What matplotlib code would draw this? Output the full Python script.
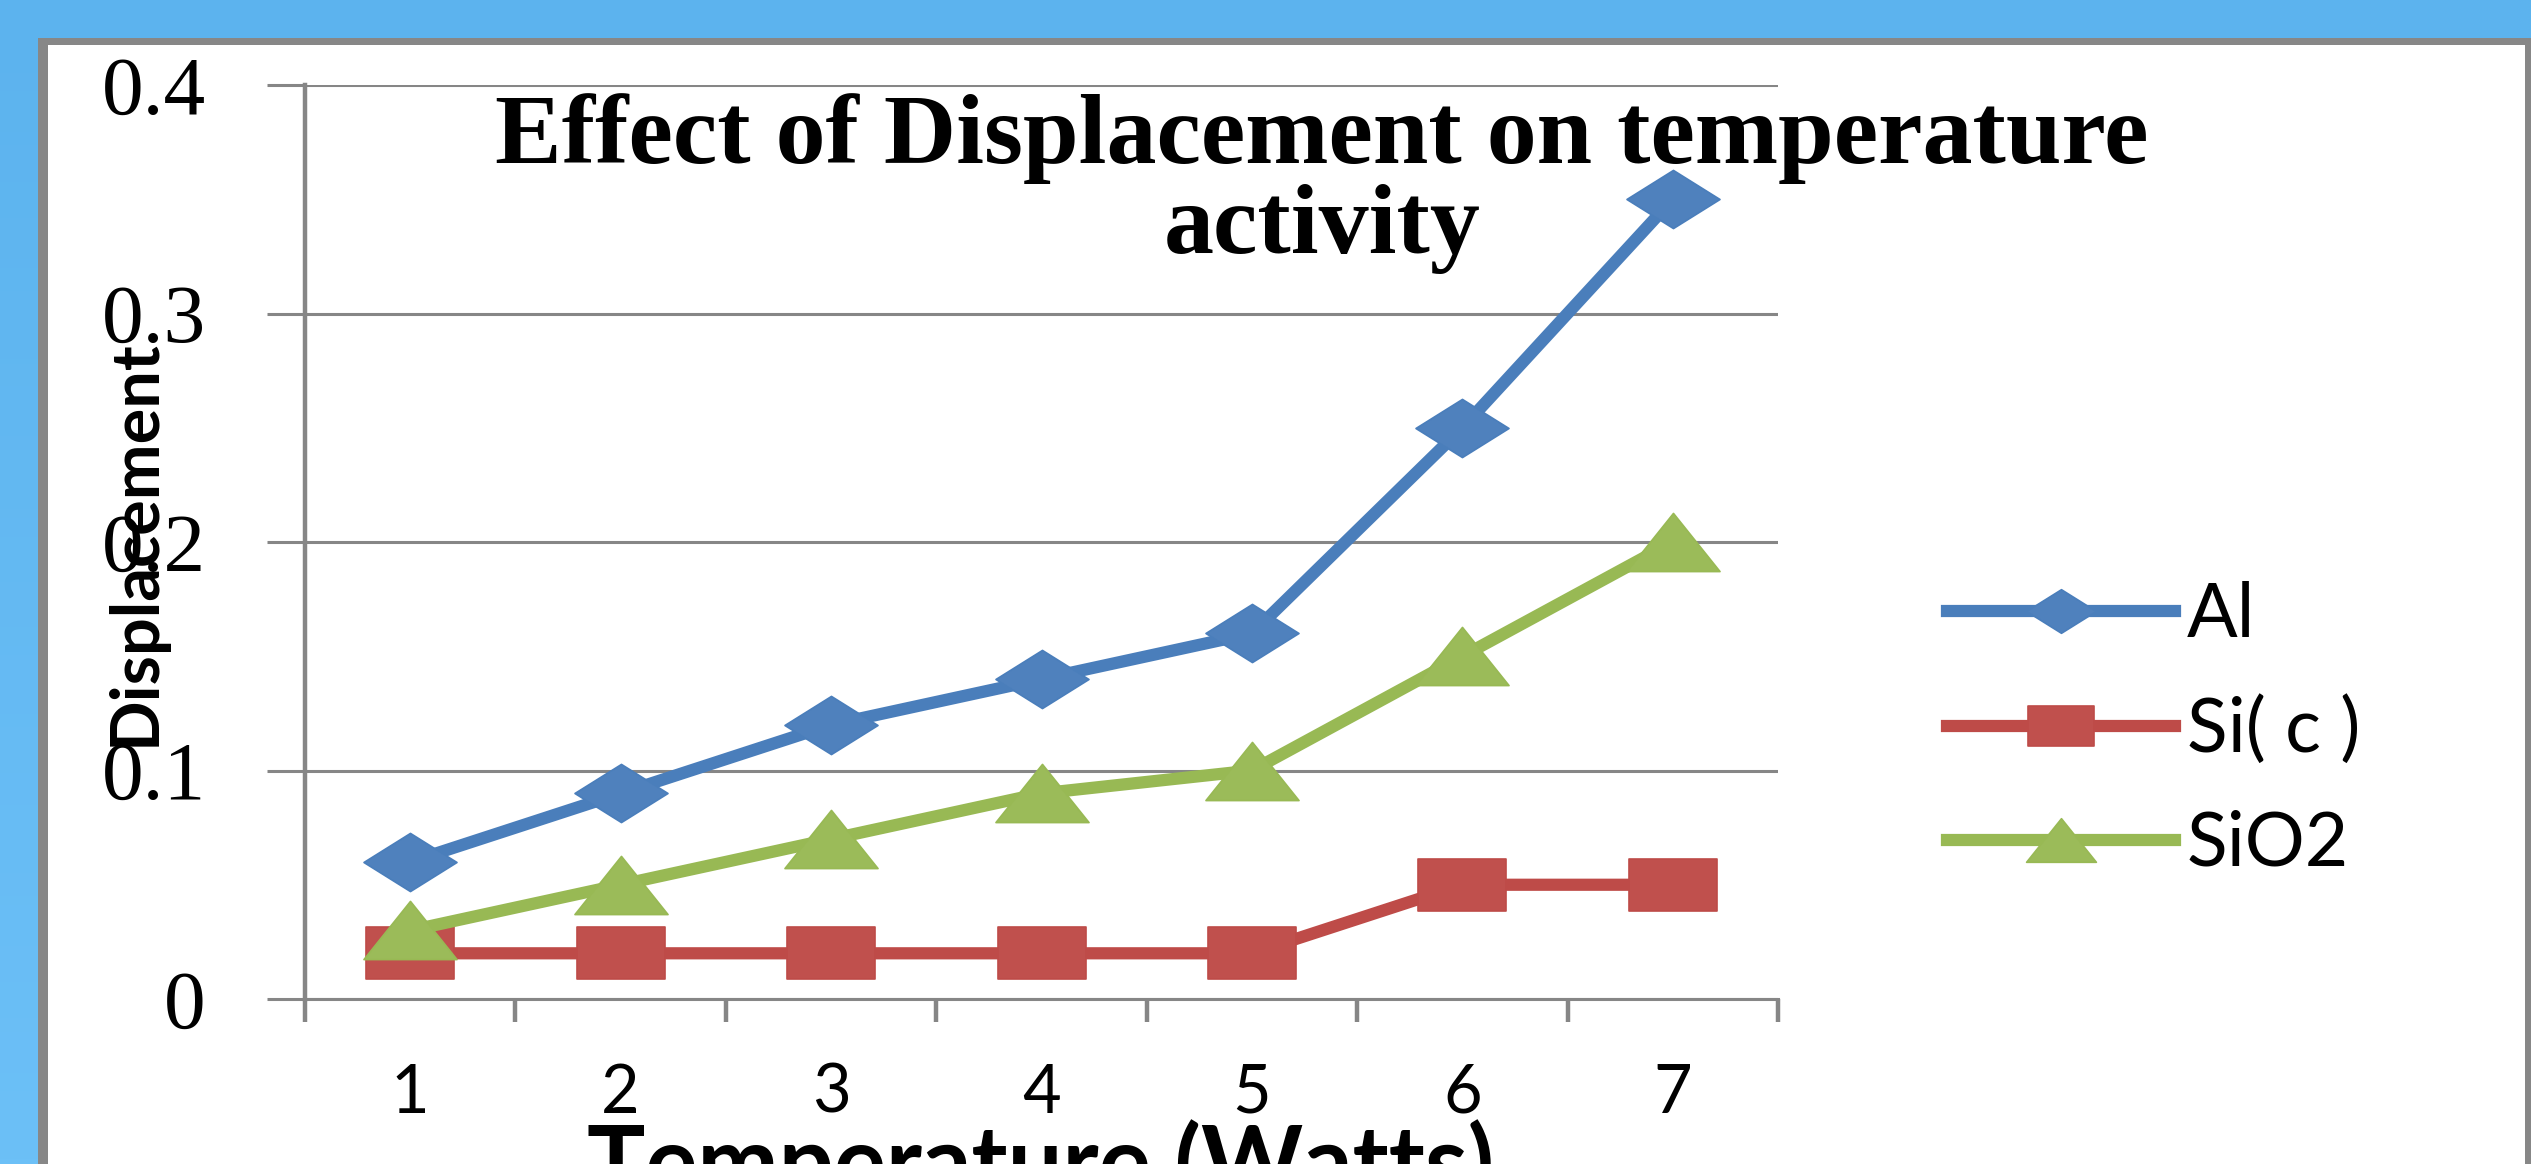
import numpy as np
import matplotlib
matplotlib.use("Agg")
import matplotlib.pyplot as plt
from matplotlib.path import Path
from matplotlib.patches import Rectangle
from matplotlib.colors import LinearSegmentedColormap

# values per temperature step
temperature = [1, 2, 3, 4, 5, 6, 7]
al = [0.06, 0.09, 0.12, 0.14, 0.16, 0.25, 0.35]
si_c = [0.02, 0.02, 0.02, 0.02, 0.02, 0.05, 0.05]
sio2 = [0.03, 0.05, 0.07, 0.09, 0.10, 0.15, 0.20]
series_names = ["Al", "Si( c )", "SiO2"]
y_ticks = [0, 0.1, 0.2, 0.3, 0.4]
y_tick_labels = ["0", "0.1", "0.2", "0.3", "0.4"]

W, H = 2531, 1164
PX = 72 / 100  # points per pixel at dpi 100
GRAY = "#868686"


def wide_marker(kind, stretch=1.6):
    # markers drawn wider than tall
    if kind == "diamond":
        v = [(stretch, 0), (0, 1), (-stretch, 0), (0, -1), (stretch, 0)]
    elif kind == "square":
        v = [(-stretch, -1), (stretch, -1), (stretch, 1), (-stretch, 1), (-stretch, -1)]
    else:
        v = [(0, 1), (-stretch, -1), (stretch, -1), (0, 1)]
    codes = [Path.MOVETO] + [Path.LINETO] * (len(v) - 2) + [Path.CLOSEPOLY]
    return Path(v, codes)


fig = plt.figure(figsize=(W / 100, H / 100), dpi=100)

# blue backdrop with a white framed panel
bg = fig.add_axes([0, 0, 1, 1], zorder=-10)
bg_cmap = LinearSegmentedColormap.from_list("bg", ["#5cb3ee", "#6cc0f7"])
bg.imshow(np.linspace(0, 1, 256).reshape(-1, 1), cmap=bg_cmap, aspect="auto",
          extent=[0, 1, 0, 1], origin="upper")
bg.add_patch(Rectangle((38 / W, -0.1), 1.0, 0.1 + (H - 38) / H, color="#878787", lw=0))
bg.add_patch(Rectangle((48 / W, -0.1), (2525 - 48) / W, 0.1 + (H - 45) / H, color="white", lw=0))
bg.set_xlim(0, 1)
bg.set_ylim(0, 1)
bg.axis("off")

ax = fig.add_axes([305 / W, (H - 999) / H, (1778 - 305) / W, (999 - 85) / H])
ax.patch.set_visible(False)

styles = [
    (al, "#4a7ebb", "#4f81bd", wide_marker("diamond", 1.6), 67),
    (si_c, "#be4b48", "#c0504d", wide_marker("square", 1.66), 63),
    (sio2, "#98b954", "#9bbb59", wide_marker("triangle", 1.6), 67),
]
for (vals, lc, fc, mk, ms), name in zip(styles, series_names):
    ax.plot(temperature, vals, color=lc, lw=8.8, marker=mk, ms=ms,
            markerfacecolor=fc, markeredgecolor=lc, markeredgewidth=1.2,
            label=name, clip_on=False, zorder=3)

ax.set_xlim(0.5, 7.5)
ax.set_ylim(0, 0.4)

for side in ["top", "right"]:
    ax.spines[side].set_visible(False)
ax.spines["left"].set_color(GRAY)
ax.spines["left"].set_linewidth(3.2)
ax.spines["bottom"].set_color(GRAY)
ax.spines["bottom"].set_linewidth(2.2)

ax.set_yticks(y_ticks)
ax.set_yticklabels(y_tick_labels, family="Liberation Serif")
ax.yaxis.grid(True, color=GRAY, lw=2.2)
ax.set_axisbelow(True)
ax.tick_params(axis="y", length=38 * PX, width=2.2, color=GRAY, pad=44, labelsize=60)

ax.set_xticks(temperature)
ax.set_xticklabels([str(t) for t in temperature], family="Lato")
ax.set_xticks(np.arange(0.5, 8, 1), minor=True)
ax.tick_params(axis="x", which="major", length=0, pad=46, labelsize=48)
ax.tick_params(axis="x", which="minor", length=23 * PX, width=3.2, color=GRAY)

fig.text(1322 / W, (H - 253) / H, "Effect of Displacement on temperature\nactivity",
         ha="center", va="baseline", family="Liberation Serif", weight="bold",
         size=72, linespacing=1.0)
fig.text(136 / W, (H - 543) / H, "Displacement", rotation=90, ha="center", va="center",
         family="Lato", weight="bold", size=48)
fig.text(1041 / W, (H - 1119) / H, "Temperature (Watts)", ha="center", va="top",
         family="Lato", weight="bold", size=70)

ax.legend(loc="center left", bbox_to_anchor=(1947 / W, (H - 730) / H),
          bbox_transform=fig.transFigure, frameon=False,
          prop={"family": "Lato", "size": 54}, handlelength=3.04, handletextpad=0.16,
          labelspacing=0.6, borderpad=0, borderaxespad=0, markerscale=0.75)

fig.savefig("out.png", dpi=100)
